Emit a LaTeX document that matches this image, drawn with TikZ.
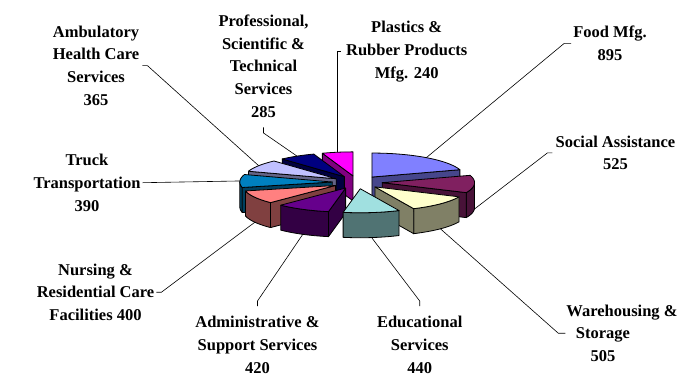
\documentclass[tikz,border=0pt]{standalone}
\usepackage{fontspec}
\setmainfont{Liberation Serif}
\usetikzlibrary{calc}
\definecolor{foodT}{RGB}{128,128,255}\definecolor{foodS}{RGB}{70,70,140}
\definecolor{socT}{RGB}{128,32,96}\definecolor{socS}{RGB}{72,18,56}
\definecolor{whT}{RGB}{255,255,204}\definecolor{whS}{RGB}{128,128,102}
\definecolor{eduT}{RGB}{160,224,224}\definecolor{eduS}{RGB}{80,115,115}
\definecolor{admT}{RGB}{102,0,140}\definecolor{admS}{RGB}{51,0,68}
\definecolor{nurT}{RGB}{255,128,128}\definecolor{nurS}{RGB}{128,64,64}
\definecolor{trkT}{RGB}{0,128,192}\definecolor{trkS}{RGB}{0,64,96}
\definecolor{ambT}{RGB}{192,192,255}\definecolor{ambS}{RGB}{100,100,135}
\definecolor{profT}{RGB}{0,0,128}\definecolor{profS}{RGB}{0,0,64}
\definecolor{plaT}{RGB}{255,0,255}\definecolor{plaS}{RGB}{128,0,128}
\def\pcx{357.2}\def\pcy{182.3}\def\pex{25}\def\pey{6.5}
\def\pR{92.4}\def\pry{24}\def\ph{25}
\newcommand\pieslice[6]{%
  \pgfmathsetmacro\slthb{(#1+#2)/2}%
  \pgfmathsetmacro\sltx{\pcx+\pex*sin(\slthb)}%
  \pgfmathsetmacro\slty{\pcy-\pey*cos(\slthb)}%
  \begin{scope}[shift={(\sltx,\slty)}]
    \pgfmathsetmacro\slra{max(#1,90)}%
    \pgfmathsetmacro\slrb{min(#2,270)}%
    \pgfmathtruncatemacro\slvis{\slrb>\slra}%
    \ifnum\slvis=1
      \filldraw[pieface, fill=#4] plot[domain=\slra:\slrb,samples=24] ({\pR*sin(\x)},{-\pry*cos(\x)})
        -- plot[domain=\slrb:\slra,samples=24] ({\pR*sin(\x)},{\ph-\pry*cos(\x)}) -- cycle;
    \fi
    \pgfmathtruncatemacro\slvis{sin(#2)>0.01}%
    \ifnum\slvis=1
      \filldraw[pieface, fill=#4] (0,0) -- ({\pR*sin(#2)},{-\pry*cos(#2)}) -- ++(0,\ph) -- (0,\ph) -- cycle;
    \fi
    \pgfmathtruncatemacro\slvis{sin(#1)<-0.01}%
    \ifnum\slvis=1
      \filldraw[pieface, fill=#4] (0,0) -- ({\pR*sin(#1)},{-\pry*cos(#1)}) -- ++(0,\ph) -- (0,\ph) -- cycle;
    \fi
    \filldraw[pieface, fill=#3] (0,0) -- plot[domain=#1:#2,samples=40] ({\pR*sin(\x)},{-\pry*cos(\x)}) -- cycle;
    \coordinate (#5) at ({\pR*sin(\slthb)},{#6-\pry*cos(\slthb)});
  \end{scope}}
\begin{document}
\begin{tikzpicture}[x=1pt,y=-1pt,
  pieface/.style={draw=black, line width=0.8pt, line join=round},
  leaderline/.style={draw=black, line width=0.6pt},
  lab/.style={font=\fontsize{16.5}{22.7}\selectfont\bfseries, align=center, inner sep=0pt, anchor=north}]
\fill[white] (0,0) rectangle (683,377);
\useasboundingbox (0,0) rectangle (683,377);
% slices, back to front
\pieslice{340.651}{360}{plaT}{plaS}{Lpla}{0}
\pieslice{317.672}{340.651}{profT}{profS}{Lprof}{0}
\pieslice{0}{72.161}{foodT}{foodS}{Lfood}{0}
\pieslice{288.243}{317.672}{ambT}{ambS}{Lamb}{0}
\pieslice{256.798}{288.243}{trkT}{trkS}{Ltrk}{0}
\pieslice{72.161}{114.491}{socT}{socS}{Lsoc}{\ph}
\pieslice{224.547}{256.798}{nurT}{nurS}{Lnur}{\ph}
\pieslice{114.491}{155.208}{whT}{whS}{Lwh}{\ph}
\pieslice{190.684}{224.547}{admT}{admS}{Ladm}{\ph}
\pieslice{155.208}{190.684}{eduT}{eduS}{Ledu}{\ph}
% labels
\node[lab] (amb) at (96,25.5) {Ambulatory\\Health Care\\Services\\365};
\node[lab] (prof) at (263.5,14.5) {Professional,\\Scientific \&\\Technical\\Services\\285};
\node[lab] (pla) at (406.7,21) {Plastics \&\\Rubber Products\\Mfg. 240};
\node[lab] (food) at (610,26) {Food Mfg.\\895};
\node[lab] (soc) at (615.5,135.5) {Social Assistance\\525};
\node[lab] (trk) at (87,154) {Truck\\Transportation\\390};
\node[lab] (nur) at (95.5,263.5) {Nursing \&\\Residential Care\\Facilities 400};
\node[lab] (adm) at (257.5,316) {Administrative \&\\Support Services\\420};
\node[lab] (edu) at (419.7,316) {Educational\\Services\\440};
\node[lab] (wh) at (603,304.5) {\hspace*{38pt}Warehousing \&\\Storage\\505};
% leaders
\draw[leaderline] ($(amb.east)+(3,0)$) -- ++(5,0) -- (Lamb);
\draw[leaderline] ($(prof.south)+(0,10)$) -- ++(0,5.5) -- (Lprof);
\draw[leaderline] ($(pla.west)+(-5,0)$) -- (Lpla |- pla.west) -- (Lpla);
\draw[leaderline] ($(food.west)+(-2,0)$) -- ++(-7,0) -- (Lfood);
\draw[leaderline] ($(soc.west)+(-3,0)$) -- ++(-5,0) -- (Lsoc);
\draw[leaderline] ($(wh.west)+(37,0)$) -- ++(-7,0) -- (Lwh);
\draw[leaderline] ($(edu.north)+(0,-10)$) -- ++(0,-5) -- (Ledu);
\draw[leaderline] ($(adm.north)+(0,-10)$) -- ++(0,-5) -- (Ladm);
\draw[leaderline] ($(nur.east)+(2,0)$) -- ++(5,0) -- (Lnur);
\draw[leaderline] ($(trk.east)+(2,0)$) -- (Ltrk);
\end{tikzpicture}
\end{document}
